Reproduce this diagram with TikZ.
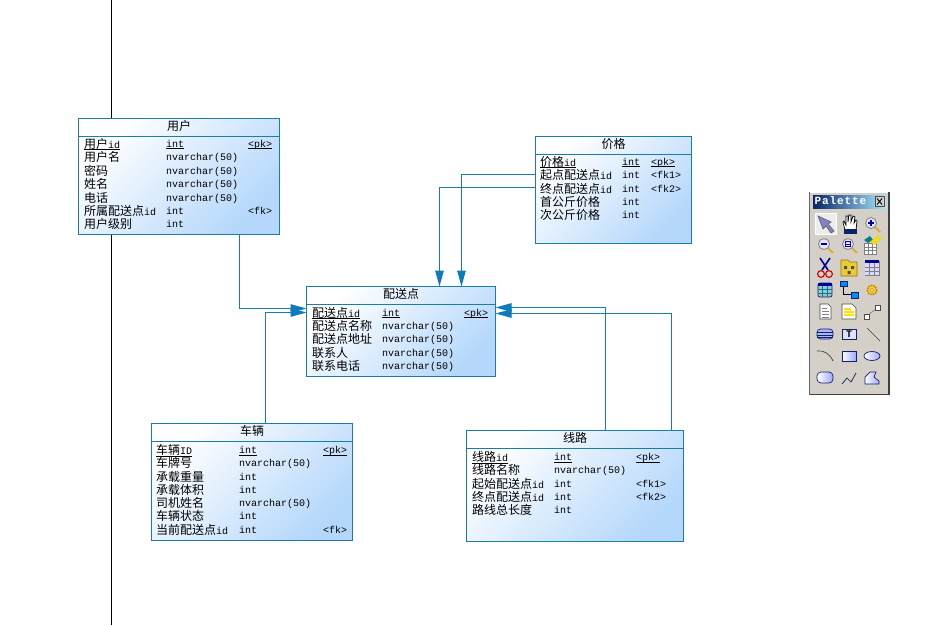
\documentclass[tikz,border=0pt]{standalone}
\usepackage{fontspec}
\setmainfont{Liberation Mono}
\newfontfamily\cjk{Noto Sans CJK SC}
\usetikzlibrary{arrows.meta}
\definecolor{tblline}{HTML}{1A7DA8}
\definecolor{arrowc}{HTML}{0E7BBD}
\definecolor{tblblue}{HTML}{B4D7FB}
\definecolor{palbg}{HTML}{D4D0C8}
\definecolor{navy}{HTML}{0A246A}
\newcommand\C[1]{{\cjk\fontsize{12}{12}\selectfont #1}}
\newcommand\U[1]{\underline{\smash{#1}}}
\newcommand\cxa{0}\newcommand\cxb{0}\newcommand\cxc{0}
\newcommand\setcols[3]{\renewcommand\cxa{#1}\renewcommand\cxb{#2}\renewcommand\cxc{#3}}
\newcommand\trow[5]{%
  \node[celltext] (#1-a) at (\cxa,#2+4) {#3};
  \node[celltext] (#1-b) at (\cxb,#2+3.2) {#4};
  \if\relax\detokenize{#5}\relax\else\node[celltext] (#1-c) at (\cxc,#2+3.2) {#5};\fi}
\newcommand\tbl[6]{% name, x, y, w, h, title
  \node[tablebox,minimum width=#4 pt,minimum height=#5 pt] (#1) at (#2,#3) {};
  \node[titletext] (#1-t) at ([yshift=-7.5pt]#1.north) {\C{#6}};
  \draw[tblsep] ([yshift=-18pt]#1.north west) -- ([yshift=-18pt]#1.north east);}
\newcommand\magn[1]{%
  \draw[line width=2pt,color=brown!60!yellow] (3,3) -- (8,8);
  \draw[line width=.8pt,color=gray,fill=blue!10] (-1,-1) circle (5.5);
  #1}
\tikzset{
  x=1pt,y=-1pt,
  tablebox/.style={anchor=north west,draw=tblline,line width=1pt,inner sep=0pt,outer sep=0pt,
    shading=axis,top color=white,bottom color=tblblue,shading angle=45},
  tblsep/.style={draw=tblline,line width=1pt},
  celltext/.style={anchor=base west,inner sep=0pt,font=\fontsize{10}{10}\selectfont,text=black},
  titletext/.style={anchor=center,inner sep=0pt,font=\fontsize{12}{12}\selectfont,text=black},
  fk/.style={draw=tblline,line width=1pt,arrows={-{Triangle[length=16pt,width=8.5pt,color=arrowc]}}},
  icon/.style={line width=.7pt},
}
\begin{document}
\begin{tikzpicture}
\useasboundingbox[fill=white] (0,0) rectangle (926,625);
\coordinate (ltop) at (111.5,0);
\coordinate (lbot) at (111.5,625);
\draw[black,line width=1pt] (ltop) -- (lbot);

% tables
\tbl{yh}{78.5}{118.5}{201}{116}{用户}
\setcols{84}{166}{248}
\trow{yh1}{144}{\U{\C{用户}id}}{\U{int}}{\U{<pk>}}
\trow{yh2}{157.5}{\C{用户名}}{nvarchar(50)}{}
\trow{yh3}{171}{\C{密码}}{nvarchar(50)}{}
\trow{yh4}{184}{\C{姓名}}{nvarchar(50)}{}
\trow{yh5}{198}{\C{电话}}{nvarchar(50)}{}
\trow{yh6}{211}{\C{所属配送点}id}{int}{<fk>}
\trow{yh7}{224}{\C{用户级别}}{int}{}

\tbl{ps}{306.5}{286.5}{189}{90}{配送点}
\setcols{312}{382}{464}
\trow{ps1}{313}{\U{\C{配送点}id}}{\U{int}}{\U{<pk>}}
\trow{ps2}{326}{\C{配送点名称}}{nvarchar(50)}{}
\trow{ps3}{339.5}{\C{配送点地址}}{nvarchar(50)}{}
\trow{ps4}{353}{\C{联系人}}{nvarchar(50)}{}
\trow{ps5}{366}{\C{联系电话}}{nvarchar(50)}{}

\tbl{jg}{535.5}{136.5}{156}{107}{价格}
\setcols{540}{622}{651}
\trow{jg1}{162}{\U{\C{价格}id}}{\U{int}}{\U{<pk>}}
\trow{jg2}{175}{\C{起点配送点}id}{int}{<fk1>}
\trow{jg3}{189}{\C{终点配送点}id}{int}{<fk2>}
\trow{jg4}{202}{\C{首公斤价格}}{int}{}
\trow{jg5}{215}{\C{次公斤价格}}{int}{}

\tbl{cl}{151.5}{423.5}{201}{117}{车辆}
\setcols{156}{239}{323}
\trow{cl1}{450.5}{\U{\C{车辆}ID}}{\U{int}}{\U{<pk>}}
\trow{cl2}{463.5}{\C{车牌号}}{nvarchar(50)}{}
\trow{cl3}{477}{\C{承载重量}}{int}{}
\trow{cl4}{490}{\C{承载体积}}{int}{}
\trow{cl5}{503.5}{\C{司机姓名}}{nvarchar(50)}{}
\trow{cl6}{516.5}{\C{车辆状态}}{int}{}
\trow{cl7}{530.5}{\C{当前配送点}id}{int}{<fk>}

\tbl{xl}{466.5}{430.5}{217}{111}{线路}
\setcols{472}{554}{636}
\trow{xl1}{457.5}{\U{\C{线路}id}}{\U{int}}{\U{<pk>}}
\trow{xl2}{470}{\C{线路名称}}{nvarchar(50)}{}
\trow{xl3}{484}{\C{起始配送点}id}{int}{<fk1>}
\trow{xl4}{497}{\C{终点配送点}id}{int}{<fk2>}
\trow{xl5}{510}{\C{路线总长度}}{int}{}

% connectors
\draw[fk] ([xshift=161pt]yh.south west) |- ([yshift=-22pt]ps.north west);
\draw[fk] ([xshift=114pt]cl.north west) |- ([yshift=-26pt]ps.north west);
\draw[fk] ([yshift=-38pt]jg.north west) -| ([xshift=155pt]ps.north west);
\draw[fk] ([yshift=-51pt]jg.north west) -| ([xshift=133pt]ps.north west);
\draw[fk] ([xshift=139pt]xl.north west) |- ([yshift=-21pt]ps.north east);
\draw[fk] ([xshift=205pt]xl.north west) |- ([yshift=-27pt]ps.north east);

% palette
\fill[palbg] (809,191.5) rectangle (889.5,395);
\draw[white,line width=1pt] (809.5,395) -- (809.5,192) -- (889,192);
\draw[black!75,line width=1.6pt] (809.5,394.5) -- (889,394.5) -- (889,192);
\draw[black!60,line width=.8pt] (809.5,192) -- (809.5,395);
\shade[left color=navy,right color=blue!25!cyan!35] (813,195) rectangle (886,208);
\node[inner sep=0pt,anchor=west,text=white,font=\addfontfeatures{LetterSpace=8}\fontsize{11}{11}\selectfont\bfseries] (pt) at (814.5,201) {Palette};
\draw[fill=palbg,draw=black!70,line width=.6pt] (875,196.5) rectangle (884,206.5);
\draw[black,line width=.9pt] (877,198.5) -- (882,204.5) (882,198.5) -- (877,204.5);

% row 1
\begin{scope}[shift={(825,224)}]
\draw[fill=black!7,draw=white,line width=1pt] (-9.5,-10.5) rectangle (11,10.5);
\draw[fill=gray!60!blue!70,draw=black!60,icon] (-7,-8) -- (6,-2) -- (3,0) -- (9,7) -- (6,9) -- (1,2) -- (-2,5) -- cycle;
\end{scope}
\begin{scope}[shift={(849,224)}]
\draw[fill=white,draw=black,icon] (-6,-2) -- (-5,-3) -- (-3,1) -- (-3,-8) -- (-1,-8) -- (-1,-2) -- (0,-9) -- (2,-9) -- (2,-2) -- (4,-8) -- (6,-7) -- (5,-1) -- (7,-4) -- (8,-3) -- (7,6) -- (-4,6) -- cycle;
\fill[navy] (-5,5) rectangle (7.5,10);
\end{scope}
\begin{scope}[shift={(872,224)}]
\magn{\draw[blue!70!black,line width=1.2pt] (-4,-1) -- (2,-1) (-1,-4) -- (-1,2);}
\end{scope}
% row 2
\begin{scope}[shift={(825,245)}]
\magn{\draw[blue!70!black,line width=1.4pt] (-4,-1) -- (2,-1);}
\end{scope}
\begin{scope}[shift={(849,245)}]
\magn{\draw[blue!70!black,line width=.9pt] (-3.5,-3.5) rectangle (1.5,1.5) (-3.5,-1) -- (1.5,-1);}
\end{scope}
\begin{scope}[shift={(872,245)}]
\draw[fill=white,draw=gray,icon] (-8,-2) rectangle (4,9);
\draw[gray,line width=.5pt] (-8,2) -- (4,2) (-8,5.5) -- (4,5.5) (-4,-2) -- (-4,9) (0,-2) -- (0,9);
\fill[teal] (-8,-5) -- (-2,-9) -- (1,-5) -- (-4,-2) -- cycle;
\fill[yellow!75!brown] (-2,-3) -- (6,-10) -- (10,-7) -- (3,0) -- cycle;
\end{scope}
% row 3
\begin{scope}[shift={(825,268)}]
\draw[blue!60!black,line width=1.6pt] (-5,-10) -- (3,2) (5,-10) -- (-3,2);
\draw[red!80!black,line width=1.1pt] (-4,6) circle (3.4) (4,6) circle (3.4);
\end{scope}
\begin{scope}[shift={(849,268)}]
\draw[fill=yellow!65!brown,draw=brown!80!black,icon] (-8,-8) -- (-1,-8) -- (1,-6) -- (8,-6) -- (8,8) -- (-8,8) -- cycle;
\fill[black!70] (-5,-2) rectangle (-2,1) (2,-2) rectangle (5,1) (-1.5,3) rectangle (1.5,6);
\end{scope}
\begin{scope}[shift={(872,268)}]
\draw[fill=white,draw=gray,icon] (-7,-7) rectangle (7,7);
\fill[blue!60!black] (-7,-8) rectangle (7,-5);
\fill[blue!15] (-7,-5) rectangle (7,7);
\draw[gray,line width=.5pt] (-7,-1) -- (7,-1) (-7,3) -- (7,3) (-2.3,-5) -- (-2.3,7) (2.3,-5) -- (2.3,7);
\end{scope}
% row 4
\begin{scope}[shift={(825,290)}]
\draw[fill=cyan!25!teal!45,draw=navy,icon,rounded corners=2pt] (-7,-7) rectangle (7,7);
\fill[blue!65!black] (-7,-7) rectangle (7,-4);
\draw[teal,line width=.5pt] (-7,-1) -- (7,-1) (-7,3) -- (7,3) (-2.3,-4) -- (-2.3,7) (2.3,-4) -- (2.3,7);
\end{scope}
\begin{scope}[shift={(849,290)}]
\draw[black,line width=.7pt] (-6,-5) -- (-6,4) -- (2,4);
\draw[fill=blue!45!cyan,draw=navy,icon] (-9,-9) rectangle (-2,-4);
\draw[fill=blue!45!cyan,draw=navy,icon] (2,2) rectangle (9,8);
\end{scope}
\begin{scope}[shift={(872,290)}]
\draw[fill=yellow!70!orange,draw=brown,line width=1.6pt,dash pattern=on 1.6pt off 1pt] (0,0) circle (4.8);
\draw[fill=white,draw=brown,line width=.5pt] (0,0) circle (1.7);
\end{scope}
% row 5
\begin{scope}[shift={(825,312)}]
\draw[fill=white,draw=black!70,icon] (-5,-8) -- (3,-8) -- (6,-5) -- (6,7) -- (-5,7) -- cycle;
\draw[gray,line width=.8pt] (-3,-4) -- (2,-4) (-3,-1) -- (4,-1) (-3,2) -- (4,2) (-3,5) -- (4,5);
\end{scope}
\begin{scope}[shift={(849,312)}]
\draw[fill=white,draw=black!70,icon] (-7,-8) -- (3,-8) -- (7,-4) -- (7,7) -- (-7,7) -- cycle;
\fill[yellow!85!orange] (-5,-4) rectangle (2,-2) (-5,-1) rectangle (5,1) (-5,2) rectangle (5,4);
\end{scope}
\begin{scope}[shift={(872,312)}]
\draw[gray,icon] (-4,3) -- (4,-3);
\draw[fill=white,draw=black!70,icon] (-8,2) rectangle (-3,7);
\draw[fill=white,draw=black!70,icon] (3,-7) rectangle (8,-2);
\end{scope}
% row 6
\begin{scope}[shift={(825,334)}]
\draw[fill=blue!30,draw=navy,icon,rounded corners=3.5pt] (-8,-5) rectangle (8,5);
\draw[navy,line width=.7pt] (-8,-1.5) -- (8,-1.5) (-8,1) -- (8,1) (-8,3.2) -- (8,3.2);
\end{scope}
\begin{scope}[shift={(849,334)}]
\draw[fill=blue!12,draw=navy,icon] (-7,-5) rectangle (7,5);
\node[inner sep=0pt,text=black,font=\fontsize{10}{10}\selectfont\bfseries] (ti) at (0,0) {T};
\end{scope}
\begin{scope}[shift={(872,334)}]
\draw[black!75,icon] (-5,-6) -- (8,7);
\end{scope}
% row 7
\begin{scope}[shift={(825,356)}]
\draw[black!75,icon] (-8,-5) .. controls (-1,-6) and (5,-2) .. (8,5);
\end{scope}
\begin{scope}[shift={(849,356)}]
\draw[left color=white,right color=blue!35,draw=navy,icon] (-7,-5) rectangle (7,5);
\end{scope}
\begin{scope}[shift={(872,356)}]
\draw[left color=white,right color=blue!35,draw=navy,icon] (0,0) ellipse (8 and 4.5);
\end{scope}
% row 8
\begin{scope}[shift={(825,378)}]
\draw[left color=white,right color=blue!35,draw=navy,icon,rounded corners=4pt] (-8,-6) rectangle (8,5);
\end{scope}
\begin{scope}[shift={(849,378)}]
\draw[navy!80!black,icon] (-7,6) -- (-2,0) -- (2,4) -- (7,-5);
\end{scope}
\begin{scope}[shift={(872,378)}]
\draw[left color=white,right color=blue!35,draw=navy,icon] (-7,6) -- (-7,-1) -- (-2,-6) -- (4,-6) -- (2,-1) -- (7,3) -- (7,6) -- cycle;
\end{scope}
\end{tikzpicture}
\end{document}
